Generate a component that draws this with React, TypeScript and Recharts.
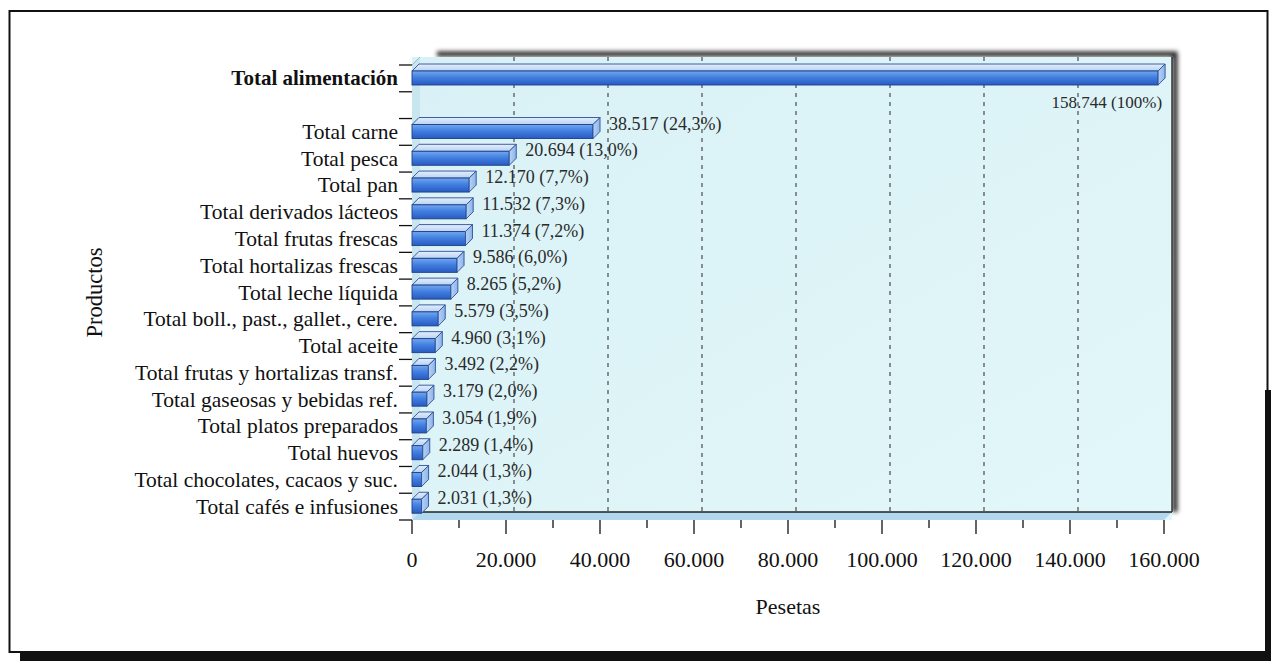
import React from 'react';
import { BarChart, Bar, XAxis, YAxis, CartesianGrid, LabelList } from 'recharts';

const categories = [
  'Total alimentación',
  ' ',
  'Total carne',
  'Total pesca',
  'Total pan',
  'Total derivados lácteos',
  'Total frutas frescas',
  'Total hortalizas frescas',
  'Total leche líquida',
  'Total boll., past., gallet., cere.',
  'Total aceite',
  'Total frutas y hortalizas transf.',
  'Total gaseosas y bebidas ref.',
  'Total platos preparados',
  'Total huevos',
  'Total chocolates, cacaos y suc.',
  'Total cafés e infusiones',
];
const values: (number | null)[] = [
  158744, null, 38517, 20694, 12170, 11532, 11374, 9586, 8265, 5579, 4960, 3492, 3179, 3054, 2289, 2044, 2031,
];
const percents = [
  '100%', '', '24,3%', '13,0%', '7,7%', '7,3%', '7,2%', '6,0%', '5,2%', '3,5%', '3,1%', '2,2%', '2,0%', '1,9%', '1,4%', '1,3%', '1,3%',
];
const xTicks = [0, 10000, 20000, 30000, 40000, 50000, 60000, 70000, 80000, 90000, 100000, 110000, 120000, 130000, 140000, 150000, 160000];

const fmt = (n: number) => String(n).replace(/\B(?=(\d{3})+(?!\d))/g, '.');

const data = categories.map((name, i) => ({
  name,
  value: values[i],
  label: values[i] == null ? '' : `${fmt(values[i] as number)} (${percents[i]})`,
}));
const totalLabel = data[0].label;

const W = 1271;
const H = 661;
const PL = 412;
const PR = 1164;
const PT = 65;
const PB = 520;
const D = 8;
const FONT = "'Liberation Serif', 'Times New Roman', serif";

const Bar3D = (props: any) => {
  const { x, y, width, height, value } = props;
  if (value == null || width == null || !height) return null;
  const d = 7;
  const x2 = x + width;
  return (
    <g>
      <path
        d={`M${x},${y} L${x + d},${y - d} L${x2 + d},${y - d} L${x2},${y} Z`}
        fill="url(#topFace)"
        stroke="#2b4f96"
        strokeWidth={0.9}
      />
      <rect x={x} y={y} width={width} height={height} fill="url(#frontFace)" stroke="#1f3f85" strokeWidth={0.9} />
      <path
        d={`M${x2},${y} L${x2 + d},${y - d} L${x2 + d},${y + height - d} L${x2},${y + height} Z`}
        fill="url(#capFace)"
        stroke="#2b4f96"
        strokeWidth={0.9}
      />
    </g>
  );
};

const ValueLabel = (props: any) => {
  const { x, y, width, height, value } = props;
  if (!value) return null;
  if (value === totalLabel) {
    return (
      <text x={x + width + 4} y={y + height + 23} textAnchor="end" fontSize={17} fontFamily={FONT} fill="#2a2a2a">
        {value}
      </text>
    );
  }
  return (
    <text x={x + width + 16} y={y + 5} textAnchor="start" fontSize={18} fontFamily={FONT} fill="#2a2a2a">
      {value}
    </text>
  );
};

const YTick = (props: any) => {
  const { x, y, payload, index } = props;
  const half = payload && payload.offset ? payload.offset : 13.38;
  const label = String(payload.value).trim();
  const isTotal = index === 0;
  return (
    <g>
      {index === 0 && <line x1={x - 13} x2={x} y1={y - half} y2={y - half} stroke="#111" strokeWidth={1.3} />}
      <line x1={x - 13} x2={x} y1={y + half} y2={y + half} stroke="#111" strokeWidth={1.3} />
      <text
        x={x - 14}
        y={y + 7}
        textAnchor="end"
        fontSize={isTotal ? 21 : 21.5}
        fontFamily={FONT}
        fontWeight={isTotal ? 'bold' : 'normal'}
        fill="#111"
      >
        {label}
      </text>
    </g>
  );
};

const XTick = (props: any) => {
  const { x, y, payload } = props;
  const major = payload.value % 20000 === 0;
  return (
    <g>
      <line x1={x} x2={x} y1={y} y2={y + (major ? 14 : 8)} stroke="#111" strokeWidth={1.3} />
      {major && (
        <text x={x} y={y + 47} textAnchor="middle" fontSize={22} fontFamily={FONT} fill="#111">
          {fmt(payload.value)}
        </text>
      )}
    </g>
  );
};

const GridLine = (p: any) => {
  const { x1, y1, y2, index } = p;
  if (index == null || index % 2 !== 0 || index === 0 || index === 16) return <g />;
  return <line x1={x1 + D} x2={x1 + D} y1={y1 - D} y2={y2 - D} stroke="#4a4a4a" strokeWidth={1.2} strokeDasharray="4 5" />;
};

const Background = () => (
  <svg width={W} height={H} style={{ position: 'absolute', left: 0, top: 0 }}>
    <defs>
      <linearGradient id="frontFace" x1="0" y1="0" x2="0" y2="1">
        <stop offset="0%" stopColor="#72a8f0" />
        <stop offset="45%" stopColor="#427fe0" />
        <stop offset="100%" stopColor="#285bc2" />
      </linearGradient>
      <linearGradient id="topFace" x1="0" y1="0" x2="0" y2="1">
        <stop offset="0%" stopColor="#e4eefb" />
        <stop offset="100%" stopColor="#b9d2f3" />
      </linearGradient>
      <linearGradient id="capFace" x1="0" y1="0" x2="1" y2="0">
        <stop offset="0%" stopColor="#b8d3f4" />
        <stop offset="100%" stopColor="#8db4ea" />
      </linearGradient>
      <linearGradient id="wall" x1="0" y1="0" x2="1" y2="1">
        <stop offset="0%" stopColor="#d9f1f6" />
        <stop offset="100%" stopColor="#e2f7f9" />
      </linearGradient>
      <filter id="blur" x="-10%" y="-10%" width="120%" height="120%">
        <feGaussianBlur stdDeviation="2" />
      </filter>
    </defs>
    <rect x={0} y={0} width={W} height={H} fill="#ffffff" />
    {/* outer frame */}
    <rect x={9.5} y={11} width={1258} height={641} fill="none" stroke="#111" strokeWidth={2} />
    <rect x={20} y={651} width={W - 20} height={10} fill="#111" />
    <rect x={1265} y={390} width={6} height={262} fill="#111" />
    {/* dark shadow on top and right */}
    <path
      d={`M${PL + 25},${PT - D - 3} H${PR + D + 3} V${PB - D}`}
      fill="none"
      stroke="#222"
      strokeWidth={5}
      filter="url(#blur)"
    />
    {/* box interior */}
    <rect x={PL} y={PT - D} width={PR - PL + D} height={PB - PT + D} fill="url(#wall)" />
    {/* left wall */}
    <path d={`M${PL},${PT} L${PL + D},${PT - D} L${PL + D},${PB - D} L${PL},${PB} Z`} fill="#c7e6f0" />
    {/* floor */}
    <path d={`M${PL},${PB} L${PL + D},${PB - D} L${PR + D},${PB - D} L${PR},${PB} Z`} fill="#b2d8ef" />
    <line x1={PL + D} x2={PR + D} y1={PB - D} y2={PB - D} stroke="#222" strokeWidth={1.5} />
    <line x1={PR + D} x2={PR + D} y1={PT - D} y2={PB - D} stroke="#333" strokeWidth={1.5} />
    <line x1={PL} x2={PL + D} y1={PT} y2={PT - D} stroke="#8fb8d0" strokeWidth={1} />
  </svg>
);

export default function App() {
  return (
    <div style={{ position: 'absolute', left: 0, top: 0, width: W, height: H }}>
      <Background />
      <div style={{ position: 'absolute', left: 0, top: 0 }}>
        <BarChart
          width={W}
          height={H}
          data={data}
          layout="vertical"
          margin={{ top: PT, right: W - PR, bottom: H - PB - 60, left: 20 }}
          barCategoryGap={0}
        >
          <CartesianGrid horizontal={false} vertical={GridLine} />
          <XAxis
            type="number"
            domain={[0, 160000]}
            ticks={xTicks}
            interval={0}
            height={60}
            axisLine={false}
            tickLine={false}
            tickSize={0}
            tickMargin={0}
            tick={<XTick />}
            label={{
              content: () => (
                <text x={(PL + PR) / 2} y={614} textAnchor="middle" fontSize={22} fontFamily={FONT} fill="#111">
                  Pesetas
                </text>
              ),
            }}
          />
          <YAxis
            type="category"
            dataKey="name"
            width={PL - 20}
            interval={0}
            axisLine={false}
            tickLine={false}
            tickSize={0}
            tickMargin={0}
            tick={<YTick />}
            label={{
              content: () => (
                <text
                  x={102}
                  y={(PT + PB) / 2}
                  textAnchor="middle"
                  fontSize={22.5}
                  fontFamily={FONT}
                  fill="#111"
                  transform={`rotate(-90, 102, ${(PT + PB) / 2})`}
                >
                  Productos
                </text>
              ),
            }}
          />
          <Bar dataKey="value" barSize={14} shape={<Bar3D />} isAnimationActive={false}>
            <LabelList dataKey="label" content={<ValueLabel />} />
          </Bar>
        </BarChart>
      </div>
    </div>
  );
}
